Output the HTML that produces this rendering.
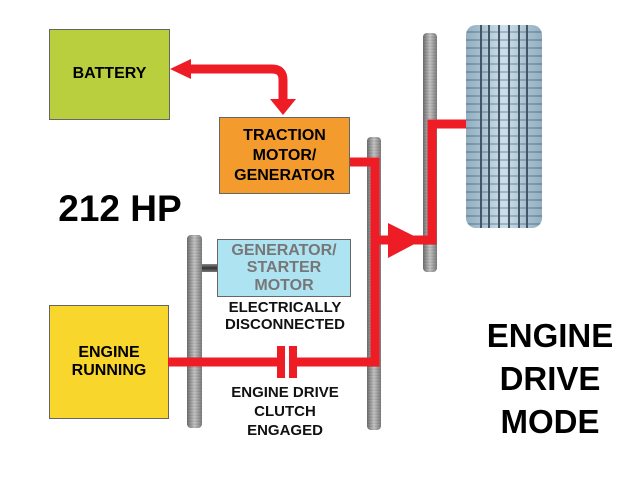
<!DOCTYPE html>
<html><head><style>
body{margin:0;width:638px;height:480px;background:#fff;position:relative;overflow:hidden;font-family:"Liberation Sans",sans-serif;font-weight:bold}
.box{position:absolute;box-sizing:border-box;border:1px solid #666;display:flex;align-items:center;justify-content:center;text-align:center;line-height:1.15}
.gear{position:absolute;border-radius:4px;background:repeating-linear-gradient(0deg,#999 0,#e4e4e4 1px,#aaa 2px,#f2f2f2 3px),linear-gradient(90deg,#888,#f4f4f4,#999);background-blend-mode:multiply}
.t{position:absolute;text-align:center;color:#111}
</style></head><body>
<div class="box" style="left:49px;top:29px;width:121px;height:91px;background:#b9cf3e;font-size:16px">BATTERY</div>
<div class="box" style="left:49px;top:305px;width:120px;height:114px;background:#f8d62c;font-size:16px">ENGINE<br>RUNNING</div>
<div class="box" style="left:219px;top:117px;width:131px;height:77px;background:#f39b2c;font-size:16px;line-height:1.25">TRACTION<br>MOTOR/<br>GENERATOR</div>
<div class="gear" style="left:187px;top:235px;width:15px;height:193px"></div>
<div style="position:absolute;left:202px;top:264px;width:16px;height:8px;background:linear-gradient(#888,#333,#777)"></div>
<div class="box" style="left:217px;top:239px;width:134px;height:58px;background:#aee3f2;color:#777;font-size:16px;line-height:1.1">GENERATOR/<br>STARTER<br>MOTOR</div>
<div class="gear" style="left:367px;top:137px;width:14px;height:293px"></div>
<div class="gear" style="left:423px;top:33px;width:14px;height:239px"></div>
<div style="position:absolute;left:466px;top:25px;width:76px;height:203px;border-radius:10px;background:repeating-linear-gradient(180deg,#dbe8f0 0,#dbe8f0 6px,#7d95a6 7px,#dbe8f0 8px),linear-gradient(90deg,#a9bfcc,#eef5f8,#a9bfcc);background-blend-mode:multiply;overflow:hidden">
<div style="position:absolute;left:14px;top:0;width:2px;height:203px;background:#456"></div>
<div style="position:absolute;left:22px;top:0;width:2px;height:203px;background:#456"></div>
<div style="position:absolute;left:32px;top:0;width:2px;height:203px;background:#456"></div>
<div style="position:absolute;left:42px;top:0;width:2px;height:203px;background:#456"></div>
<div style="position:absolute;left:52px;top:0;width:2px;height:203px;background:#456"></div>
<div style="position:absolute;left:60px;top:0;width:2px;height:203px;background:#456"></div>
</div>
<svg style="position:absolute;left:0;top:0" width="638" height="480">
<g fill="none" stroke="#ee1c25" stroke-width="9">
<path d="M184 69 H272 Q283 69 283 80 V100"/>
<path d="M350 162 H375 V362 H168"/>
<path d="M375 240 H432 V124 H466"/>
</g>
<g fill="#ee1c25">
<polygon points="170,69 191,59 191,79"/>
<polygon points="270,99 296,99 283,115"/>
<polygon points="388,223 388,258 422,240"/>
<rect x="277" y="346" width="8" height="32"/>
<rect x="289" y="346" width="8" height="32"/>
</g>
<rect x="285" y="346" width="4" height="32" fill="#fff"/>
</svg>
<div class="t" style="left:40px;top:188px;width:160px;font-size:37px;color:#000">212 HP</div>
<div class="t" style="left:200px;top:299px;width:170px;font-size:15px;line-height:17px">ELECTRICALLY<br>DISCONNECTED</div>
<div class="t" style="left:200px;top:383px;width:170px;font-size:15px;line-height:19px">ENGINE DRIVE<br>CLUTCH<br>ENGAGED</div>
<div class="t" style="left:472px;top:314px;width:156px;font-size:33px;line-height:43px;color:#000">ENGINE<br>DRIVE<br>MODE</div>
</body></html>
